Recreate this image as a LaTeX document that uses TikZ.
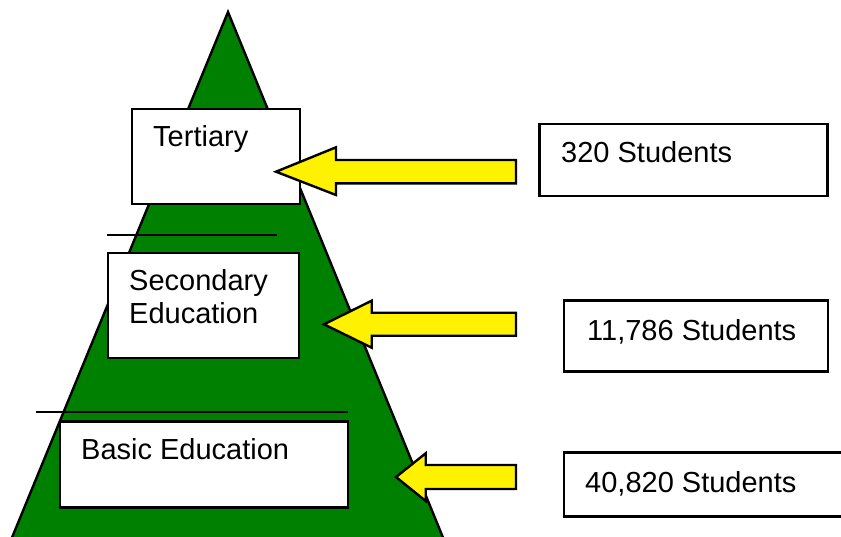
\documentclass[tikz,border=0pt]{standalone}
\usepackage{fontspec}
\setmainfont{Liberation Sans}
\begin{document}
\begin{tikzpicture}[x=1pt,y=-1pt,
  box/.style={draw=black,line width=2.6pt,fill=white,minimum width=#1,inner sep=0pt,rectangle},
  lbl/.style={anchor=base west,inner sep=0pt,font=\fontsize{29}{33}\selectfont,align=left},
  blockarrow/.style={draw=black,line width=2.4pt,fill=yellow,line join=miter},
  rule/.style={draw=black,line width=2pt}]
\useasboundingbox (0,0) rectangle (841,536);
\begin{scope}
\clip (0,0) rectangle (841,536);
% pyramid
\coordinate (apex) at (228,12);
\coordinate (bl) at (11,540);
\coordinate (br) at (444,540);
\draw[line width=2.4pt,fill={rgb,255:red,0;green,128;blue,0},line join=miter] (apex) -- (br) -- (bl) -- cycle;
% rules
\coordinate (r1a) at (107,235); \coordinate (r1b) at (277,235);
\draw[rule] (r1a) -- (r1b);
\coordinate (r2a) at (36,411.5); \coordinate (r2b) at (348,411.5);
\draw[rule] (r2a) -- (r2b);
% left boxes
\node[box=168pt,minimum height=95pt] (tert) at (216,156.5) {};
\node[box=191pt,minimum height=105pt] (sec) at (203.5,305.5) {};
\node[box=288pt,minimum height=86.5pt] (basic) at (204,464.5) {};
\node[lbl] (terttxt) at (153,146.5) {Tertiary};
\node[lbl] (sectxt) at (129,323.3) {Secondary\\Education};
\node[lbl] (basictxt) at (81,459) {Basic Education};
% right boxes
\node[box=288.5pt,minimum height=72pt] (n1) at (683.5,160) {};
\node[box=264pt,minimum height=71.5pt] (n2) at (696,336) {};
\node[box=300pt,minimum height=64pt] (n3) at (714,484.7) {};
\node[lbl] (n1txt) at (561,162.5) {320 Students};
\node[lbl] (n2txt) at (587,340) {11,786 Students};
\node[lbl] (n3txt) at (585,492.5) {40,820 Students};
% arrows
\coordinate (a1) at (276,171.7);
\draw[blockarrow] (a1) -- (336,147.3) -- (336,160) -- (516,160) -- (516,183.3) -- (336,183.3) -- (336,195) -- cycle;
\coordinate (a2) at (324,324.3);
\draw[blockarrow] (a2) -- (371.7,300.7) -- (371.7,312.7) -- (516,312.7) -- (516,335.7) -- (371.7,335.7) -- (371.7,347.7) -- cycle;
\coordinate (a3) at (396,477);
\draw[blockarrow] (a3) -- (425.7,453.3) -- (425.7,465) -- (516,465) -- (516,489) -- (425.7,489) -- (425.7,501) -- cycle;
\end{scope}
\end{tikzpicture}
\end{document}
